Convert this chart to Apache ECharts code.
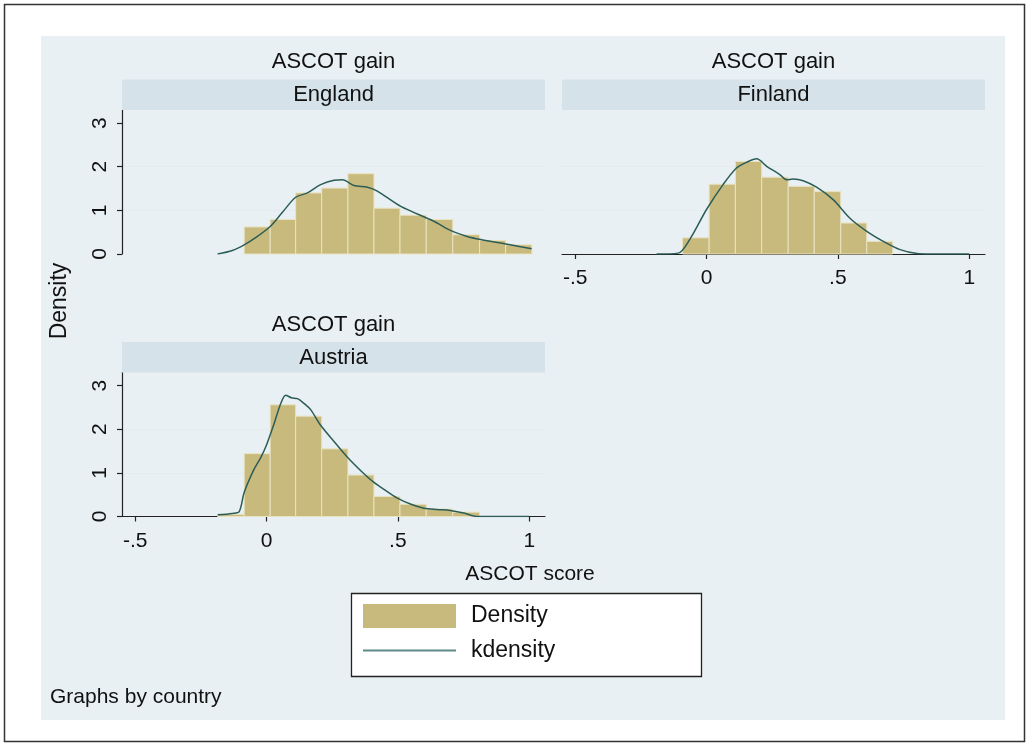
<!DOCTYPE html>
<html>
<head>
<meta charset="utf-8">
<title>ASCOT gain by country</title>
<script src="https://cdn.jsdelivr.net/npm/echarts@6/dist/echarts.min.js"></script>
<style>
  html, body { margin: 0; padding: 0; background: #fff; }
  #main { width: 1029px; height: 746px; }
</style>
</head>
<body>
<div id="main"></div>
<script>
const countries = ['England', 'Finland', 'Austria']
const panelTitle = 'ASCOT gain'
const xTicks = [-0.5, 0, 0.5, 1]
const yTicks = [0, 1, 2, 3]

// histogram bins: edges (n+1) and bar heights (n)
const englandEdges = [-0.085, 0.014, 0.111, 0.210, 0.310, 0.409, 0.508, 0.608, 0.709, 0.811, 0.910, 1.010]
const englandHeights = [0.62, 0.79, 1.40, 1.51, 1.84, 1.05, 0.89, 0.79, 0.44, 0.31, 0.21]
const finlandEdges = [-0.091, 0.010, 0.110, 0.210, 0.311, 0.410, 0.511, 0.610, 0.709]
const finlandHeights = [0.37, 1.60, 2.12, 1.76, 1.55, 1.43, 0.71, 0.29]
const austriaEdges = [-0.186, -0.085, 0.014, 0.111, 0.210, 0.310, 0.409, 0.508, 0.608, 0.709, 0.811]
const austriaHeights = [0.05, 1.44, 2.56, 2.30, 1.55, 0.95, 0.46, 0.28, 0.17, 0.10]

// kernel density curves, [x, density]
const englandKde = [[-0.186, 0], [-0.13, 0.08], [-0.085, 0.21], [-0.04, 0.38], [0.014, 0.63], [0.06, 0.95],
  [0.111, 1.30], [0.156, 1.40], [0.206, 1.59], [0.257, 1.69], [0.289, 1.70], [0.333, 1.57], [0.384, 1.53],
  [0.422, 1.44], [0.511, 1.09], [0.637, 0.75], [0.700, 0.54], [0.764, 0.40], [0.815, 0.33], [0.891, 0.25], [1.009, 0.12]]
const finlandKde = [[-0.19, 0], [-0.108, 0.02], [-0.064, 0.33], [0, 1.02], [0.063, 1.59], [0.114, 1.97],
  [0.152, 2.10], [0.191, 2.18], [0.229, 2.01], [0.279, 1.82], [0.305, 1.70], [0.330, 1.72], [0.368, 1.68],
  [0.419, 1.53], [0.483, 1.24], [0.546, 0.82], [0.610, 0.52], [0.673, 0.29], [0.737, 0.10], [0.801, 0.01],
  [0.85, 0], [1.0, 0]]
const austriaKde = [[-0.186, 0.04], [-0.13, 0.07], [-0.104, 0.11], [-0.085, 0.55], [-0.05, 1.05], [-0.022, 1.35],
  [0, 1.64], [0.03, 2.15], [0.055, 2.60], [0.073, 2.78], [0.095, 2.72], [0.118, 2.70], [0.145, 2.58],
  [0.168, 2.45], [0.206, 2.09], [0.257, 1.72], [0.308, 1.36], [0.371, 0.98], [0.409, 0.78], [0.447, 0.62],
  [0.498, 0.42], [0.55, 0.28], [0.599, 0.19], [0.65, 0.16], [0.700, 0.14], [0.751, 0.08], [0.802, 0],
  [0.85, 0], [1.0, 0]]

const binEdges = [englandEdges, finlandEdges, austriaEdges]
const binHeights = [englandHeights, finlandHeights, austriaHeights]
const kdeCurves = [englandKde, finlandKde, austriaKde]

const FONT = '"Liberation Sans", Arial, sans-serif'
const barColor = '#c8ba7d'
const lineColor = '#2c5d57'
const stripColor = '#d5e2e9'
const bgColor = '#e9f0f3'

// panel boxes: [left, top] of the plot region, all 423 x 144
const panels = [[122, 110], [562, 110], [122, 372.5]]
const PW = 423, PH = 144
const showX = [false, true, true]
const showY = [true, false, true]

const fmtTick = v => v === 0 ? '0' : (v < 0 ? '-' : '') + String(Math.abs(v)).replace(/^0/, '')

function renderBin(params, api) {
  const p0 = api.coord([api.value(0), 0])
  const p1 = api.coord([api.value(1), api.value(2)])
  return {
    type: 'rect',
    shape: { x: p0[0], y: p1[1], width: p1[0] - p0[0], height: p0[1] - p1[1] },
    style: { fill: barColor, stroke: '#e9e3c2', lineWidth: 1 }
  }
}

const grid = [], xAxis = [], yAxis = [], series = [], graphic = []

// frame, graph region
graphic.push({ type: 'rect', z: 0, shape: { x: 4.5, y: 4.5, width: 1020, height: 737 },
  style: { fill: '#fff', stroke: '#333', lineWidth: 1.5 } })
graphic.push({ type: 'rect', z: 0, shape: { x: 41, y: 36, width: 964, height: 684 }, style: { fill: bgColor } })

countries.forEach((name, i) => {
  const [left, top] = panels[i]
  grid.push({ left, top, width: PW, height: PH, show: true, backgroundColor: '#fff', borderWidth: 0 })
  xAxis.push({
    type: 'value', gridIndex: i, min: -0.55, max: 1.06,
    splitLine: { show: false },
    axisLine: { show: showX[i], onZero: false, lineStyle: { color: '#222', width: 1.2 } },
    axisTick: { show: showX[i], customValues: xTicks, length: 5, lineStyle: { color: '#222', width: 1.2 } },
    axisLabel: { show: showX[i], customValues: xTicks, formatter: fmtTick, margin: 14,
      fontSize: 21, fontFamily: FONT, color: '#111' }
  })
  yAxis.push({
    type: 'value', gridIndex: i, min: 0, max: 3.3, interval: 1,
    splitLine: { show: true, showMinLine: false, showMaxLine: false, lineStyle: { color: '#e3ebef', width: 1 } },
    axisLine: { show: showY[i], onZero: false, lineStyle: { color: '#222', width: 1.2 } },
    axisTick: { show: showY[i], customValues: yTicks, length: 5, lineStyle: { color: '#222', width: 1.2 } },
    axisLabel: { show: showY[i], customValues: yTicks, rotate: 90, margin: 11,
      fontSize: 21, fontFamily: FONT, color: '#111' }
  })

  const edges = binEdges[i]
  const bins = binHeights[i].map((h, k) => [edges[k], edges[k + 1], h])
  series.push({
    name: 'Density', type: 'custom', xAxisIndex: i, yAxisIndex: i,
    renderItem: renderBin, encode: { x: [0, 1], y: 2 },
    itemStyle: { color: barColor }, data: bins, z: 2
  })
  series.push({
    name: 'kdensity', type: 'line', xAxisIndex: i, yAxisIndex: i,
    data: kdeCurves[i], showSymbol: false, symbol: 'none', smooth: 0.3,
    lineStyle: { color: lineColor, width: 1.5 }, itemStyle: { color: lineColor }, z: 3
  })

  // by-group header and strip
  const cx = left + PW / 2
  graphic.push({ type: 'rect', z: 1, shape: { x: left, y: top - 30.5, width: PW, height: 30.5 }, style: { fill: stripColor } })
  graphic.push({ type: 'text', z: 2, x: cx, y: top - 48, style: { text: panelTitle, align: 'center',
    verticalAlign: 'middle', fontSize: 22, fontFamily: FONT, fill: '#111' } })
  graphic.push({ type: 'text', z: 2, x: cx, y: top - 15, style: { text: name, align: 'center',
    verticalAlign: 'middle', fontSize: 22, fontFamily: FONT, fill: '#111' } })
})

graphic.push({ type: 'text', z: 2, x: 60, y: 301, rotation: Math.PI / 2, style: { text: 'Density',
  align: 'center', verticalAlign: 'middle', fontSize: 23, fontFamily: FONT, fill: '#111' } })
graphic.push({ type: 'text', z: 2, x: 530, y: 574, style: { text: 'ASCOT score',
  align: 'center', verticalAlign: 'middle', fontSize: 21, fontFamily: FONT, fill: '#111' } })
graphic.push({ type: 'text', z: 2, x: 50, y: 697, style: { text: 'Graphs by country',
  align: 'left', verticalAlign: 'middle', fontSize: 21, fontFamily: FONT, fill: '#111' } })
// legend box
graphic.push({ type: 'rect', z: 1, shape: { x: 351.5, y: 593.5, width: 350, height: 83 },
  style: { fill: '#fff', stroke: '#222', lineWidth: 1.3 } })

const chart = echarts.init(document.getElementById('main'), null, { renderer: 'canvas' })
chart.setOption({
  animation: false,
  backgroundColor: '#fff',
  graphic: { elements: graphic },
  legend: {
    data: [
      { name: 'Density', icon: 'rect' },
      { name: 'kdensity', lineStyle: { width: 2, color: '#5f8a86' }, itemStyle: { opacity: 0 } }
    ],
    orient: 'vertical', left: 362, top: 604, padding: 0,
    itemWidth: 93, itemHeight: 24, itemGap: 11,
    selectedMode: false,
    textStyle: { fontSize: 23, fontFamily: FONT, color: '#111', padding: [0, 0, 0, 10] }
  },
  grid, xAxis, yAxis, series
})
</script>
</body>
</html>
